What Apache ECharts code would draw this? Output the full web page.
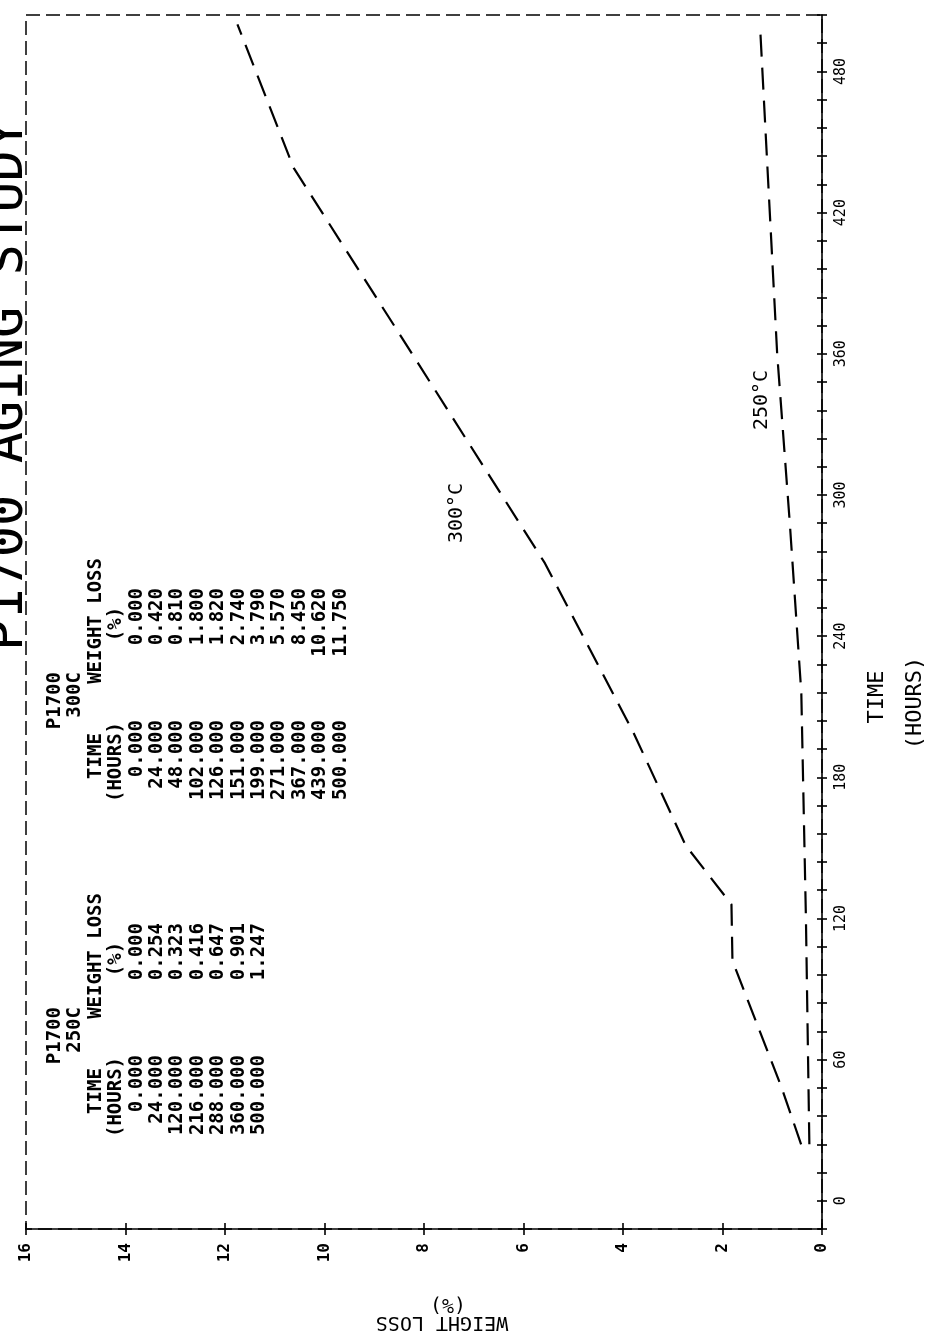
<!DOCTYPE html>
<html>
<head>
<meta charset="utf-8">
<title>P1700 Aging Study</title>
<script src="https://cdn.jsdelivr.net/npm/echarts@6/dist/echarts.min.js"></script>
<style>
  html, body { margin: 0; padding: 0; background: #fff; }
  #chart { width: 929px; height: 1340px; }
</style>
</head>
<body>
<div id="chart"></div>
<script>
// P1700 250C
const time250 = [0, 24, 120, 216, 288, 360, 500]
const loss250 = [0, 0.254, 0.323, 0.416, 0.647, 0.901, 1.247]
// P1700 300C
const time300 = [0, 24, 48, 102, 126, 151, 199, 271, 367, 439, 500]
const loss300 = [0, 0.42, 0.81, 1.8, 1.82, 2.74, 3.79, 5.57, 8.45, 10.62, 11.75]

// tick labels
const timeLabels = [0, 60, 120, 180, 240, 300, 360, 420, 480]
const lossLabels = [0, 2, 4, 6, 8, 10, 12, 14, 16]

const mono = 'DejaVu Sans Mono'
const ink = '#000'

// the whole plot is turned a quarter turn: text reads bottom to top
function upText(text, x, y, align, size, weight) {
  return {
    type: 'text',
    x: x,
    y: y,
    rotation: Math.PI / 2,
    style: {
      text: text,
      fill: ink,
      font: (weight || 'bold') + ' ' + (size || 19) + 'px "' + mono + '"',
      align: align,
      verticalAlign: 'middle'
    }
  }
}

// data table printed in the plot, dy moves it down the page
function tableText(name, times, losses, dy) {
  const x0 = 55
  const step = 20.4
  const items = [
    upText('P1700', x0, 672 + dy, 'right'),
    upText(name, x0 + step, 672 + dy, 'right'),
    upText('TIME', x0 + step * 2, 756 + dy, 'center'),
    upText('WEIGHT LOSS', x0 + step * 2, 558 + dy, 'right'),
    upText('(HOURS)', x0 + step * 3, 762 + dy, 'center'),
    upText('(%)', x0 + step * 3, 624 + dy, 'center')
  ]
  times.forEach((t, i) => {
    const x = x0 + step * (4 + i)
    items.push(upText(t.toFixed(3), x, 720 + dy, 'right'))
    items.push(upText(losses[i].toFixed(3), x, 588 + dy, 'right'))
  })
  return items
}

const axisLineStyle = { color: ink, width: 1.6 }

const option = {
  animation: false,
  backgroundColor: '#fff',
  grid: {
    left: 26,
    top: 15,
    width: 796,
    height: 1214,
    show: true,
    backgroundColor: 'transparent',
    borderColor: ink,
    borderWidth: 1.5,
    borderType: [14, 6]
  },
  xAxis: [
    {
      type: 'value',
      position: 'bottom',
      min: 0,
      max: 16,
      interval: 2,
      inverse: true,
      axisLine: { onZero: false, lineStyle: axisLineStyle },
      axisTick: { length: 6, lineStyle: axisLineStyle },
      axisLabel: {
        rotate: 90,
        margin: 14,
        color: ink,
        fontFamily: mono,
        fontSize: 16,
        fontWeight: 'bold',
        formatter: v => (lossLabels.includes(v) ? String(v) : '')
      },
      splitLine: { show: false }
    },
    {
      type: 'value',
      position: 'bottom',
      min: 0,
      max: 16,
      interval: 2,
      inverse: true,
      axisLine: { show: false, onZero: false },
      axisTick: { inside: true, length: 6, lineStyle: axisLineStyle },
      axisLabel: { show: false },
      splitLine: { show: false }
    }
  ],
  yAxis: [
    {
      type: 'value',
      position: 'right',
      min: -12,
      max: 504,
      interval: 12,
      axisLine: { onZero: false, lineStyle: axisLineStyle },
      axisTick: { length: 5, lineStyle: axisLineStyle },
      axisLabel: {
        rotate: 90,
        margin: 12,
        color: ink,
        fontFamily: mono,
        fontSize: 15,
        formatter: v => (timeLabels.includes(v) ? String(v) : '')
      },
      splitLine: { show: false }
    },
    {
      type: 'value',
      position: 'right',
      min: -12,
      max: 504,
      interval: 12,
      axisLine: { show: false, onZero: false },
      axisTick: { inside: true, length: 5, lineStyle: axisLineStyle },
      axisLabel: { show: false },
      splitLine: { show: false }
    }
  ],
  series: [
    {
      name: '300C',
      type: 'line',
      xAxisIndex: 0,
      yAxisIndex: 0,
      symbol: 'none',
      lineStyle: { color: ink, width: 2.2, type: [22, 11] },
      // plotted from the 24 h reading on, as in the original
      data: time300.slice(1).map((t, i) => [loss300[i + 1], t])
    },
    {
      name: '250C',
      type: 'line',
      xAxisIndex: 0,
      yAxisIndex: 0,
      symbol: 'none',
      lineStyle: { color: ink, width: 2.2, type: [22, 11] },
      data: time250.slice(1).map((t, i) => [loss250[i + 1], t])
    }
  ],
  graphic: [
    upText('P1700 AGING STUDY', 8, 385, 'center', 52, 'normal'),
    upText('300°C', 457, 513, 'center', 20, 'normal'),
    upText('250°C', 762, 400, 'center', 20, 'normal'),
    upText('TIME', 877, 697, 'center', 22, 'normal'),
    upText('(HOURS)', 915, 703, 'center', 22, 'normal'),
    {
      type: 'text',
      x: 442,
      y: 1322,
      rotation: Math.PI,
      style: { text: 'WEIGHT LOSS', fill: ink, font: '20px "' + mono + '"', align: 'center', verticalAlign: 'middle' }
    },
    {
      type: 'text',
      x: 448,
      y: 1304,
      rotation: Math.PI,
      style: { text: '(%)', fill: ink, font: '20px "' + mono + '"', align: 'center', verticalAlign: 'middle' }
    }
  ]
    .concat(tableText('300C', time300, loss300, 0))
    .concat(tableText('250C', time250, loss250, 335))
}

const chart = echarts.init(document.getElementById('chart'))
chart.setOption(option)
</script>
</body>
</html>
